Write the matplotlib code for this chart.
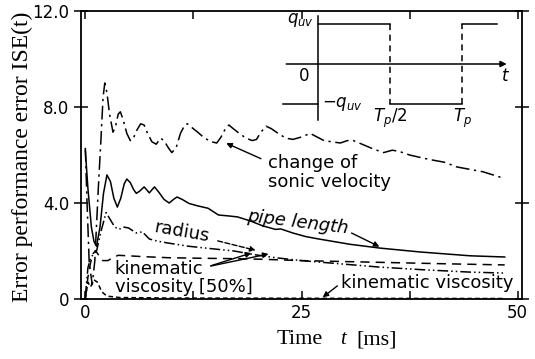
import matplotlib
matplotlib.use("Agg")
import matplotlib.pyplot as plt

W, H = 535, 359

# ---------------- data ----------------
sonic_t = [0, 0.2, 0.45, 0.8, 1.1, 1.5, 1.8, 2.05, 2.25, 2.5, 2.8, 3.2, 3.5, 3.8, 4.05, 4.35,
           4.8, 5.2, 5.5, 5.9, 6.4, 6.8, 7.2, 7.7, 8.2, 8.7, 9.1, 9.6, 10.0, 10.5, 11.0, 11.5,
           11.8, 12.3, 13.0, 13.8, 14.6, 15.2, 15.7, 16.2, 16.6, 17.1, 17.8, 18.6, 19.3, 19.8,
           20.3, 20.9, 21.5, 22.3, 23.2, 24.0, 25.0, 26.0, 26.8, 27.6, 28.5, 29.5, 30.3,
           31.0, 32.0, 33.3, 34.5, 35.5, 36.3, 37.5, 38.7, 40.0, 41.5, 43.0, 44.5, 46.0, 48.3]
sonic_v = [6.3, 4.0, 1.5, 0.6, 1.6, 4.6, 6.6, 8.4, 9.0, 8.6, 7.7, 6.95, 7.2, 7.7, 7.8, 7.5,
           6.9, 6.6, 6.65, 7.0, 7.3, 7.25, 6.9, 6.55, 6.45, 6.7, 6.6, 6.3, 6.1, 6.3, 6.9, 7.25,
           7.3, 7.15, 6.95, 6.7, 6.55, 6.5, 6.75, 7.1, 7.25, 7.1, 6.9, 6.7, 6.6, 6.65,
           6.95, 7.2, 7.1, 6.9, 6.7, 6.65, 6.75, 6.9, 6.75, 6.6, 6.55, 6.5, 6.6,
           6.6, 6.45, 6.25, 6.1, 6.2, 6.15, 6.0, 5.9, 5.8, 5.7, 5.5, 5.4, 5.3, 5.04]

pipe_t = [0, 0.3, 0.7, 1.0, 1.3, 1.7, 2.1, 2.5, 2.9, 3.3, 3.7, 4.1, 4.5, 4.8, 5.2, 5.6, 5.9,
          6.3, 6.8, 7.1, 7.4, 7.7, 8.0, 8.5, 9.1, 9.7, 10.2, 10.6, 11.2, 12.0, 13.0, 14.2,
          15.4, 16.6, 17.6, 19.1, 20.5, 22.0, 22.6, 24.0, 25.5, 27.0, 30.6, 34.1, 38.7,
          44.5, 48.5]
pipe_v = [6.2, 4.6, 3.0, 2.4, 2.2, 3.0, 4.4, 5.17, 4.9, 4.2, 3.83, 4.2, 4.8, 5.0, 4.85, 4.55,
          4.4, 4.5, 4.67, 4.55, 4.42, 4.55, 4.67, 4.45, 4.15, 4.0, 4.15, 4.25, 4.15, 3.98,
          3.88, 3.78, 3.5, 3.46, 3.42, 3.25, 3.05, 2.9, 2.92, 2.75, 2.6, 2.5, 2.28, 2.12, 1.96,
          1.8, 1.75]

radius_t = [0, 0.3, 0.6, 1.0, 1.3, 1.8, 2.4, 2.9, 3.4, 3.9, 4.4, 5.0, 5.9, 6.6, 7.4, 8.5, 9.6,
            11.9, 14.5, 17.2, 19.5, 22.0, 25.0, 30.0, 34.0, 39.0, 44.5, 48.5]
radius_v = [0.1, 1.3, 1.7, 1.9, 2.0, 2.8, 3.6, 3.3, 3.0, 2.9, 3.0, 2.96, 2.75, 2.8, 2.5, 2.4, 2.33,
            2.2, 2.1, 2.0, 1.85, 1.72, 1.6, 1.45, 1.33, 1.22, 1.12, 1.08]

kin50_t = [0, 0.3, 0.6, 0.9, 1.2, 1.6, 2.0, 2.6, 3.2, 3.8, 5.0, 6.4, 9.6, 13, 17.2, 20, 25, 30,
           35, 40, 44, 48.5]
kin50_v = [0.0, 0.9, 1.5, 1.9, 2.0, 1.8, 1.6, 1.6, 1.72, 1.82, 1.8, 1.77, 1.72, 1.7, 1.68, 1.66,
           1.6, 1.56, 1.52, 1.48, 1.45, 1.42]

kin_t = [0, 0.3, 0.6, 1.0, 1.4, 1.9, 2.5, 4, 10, 25, 48.5]
kin_v = [0, 0.7, 0.5, 0.8, 0.7, 0.3, 0.12, 0.06, 0.04, 0.03, 0.02]

x_ticks = [0, 25, 50]
x_minor = [12.5, 37.5]
y_ticks = [0, 4, 8, 12]
y_ticklabels = ["0", "4.0", "8.0", "12.0"]

# inset square wave (in units of T_p and q_uv)
sq_top_t = [0, 0.5]
sq_bot_t = [0.5, 1.0]
sq_top2_t = [1.0, 1.24]

# ---------------- figure ----------------
fig = plt.figure(figsize=(W / 100, H / 100), dpi=100)
L, R, T, B = 81, 522, 11, 299
ax = fig.add_axes([L / W, 1 - B / H, (R - L) / W, (B - T) / H])

lw = 1.1
ax.plot(sonic_t, sonic_v, color="black", lw=lw, linestyle=(0, (9, 3, 1.5, 3)))
ax.plot(pipe_t, pipe_v, color="black", lw=lw, linestyle="-")
ax.plot(radius_t, radius_v, color="black", lw=lw, linestyle=(0, (7, 2, 1, 2, 1, 2)))
ax.plot(kin50_t, kin50_v, color="black", lw=lw, linestyle=(0, (6, 4)))
ax.plot(kin_t, kin_v, color="black", lw=lw, linestyle=(0, (3, 2)))

ax.set_xlim(-0.5, 50.5)
ax.set_ylim(0, 12)
ax.set_xticks(x_ticks)
ax.set_xticks(x_minor, minor=True)
ax.set_yticks(y_ticks)
ax.set_yticklabels(y_ticklabels)
ax.tick_params(axis="both", which="major", labelsize=12, direction="in", length=6, width=1.1,
               top=True, right=True)
ax.tick_params(axis="both", which="minor", direction="in", length=6, width=1.1, top=True)
ax.tick_params(axis="y", which="major", direction="inout", length=10)
for s in ax.spines.values():
    s.set_linewidth(1.3)

serif = ["Liberation Serif", "DejaVu Serif"]
fig.text(22 / W, 1 - 157 / H, "Error performance error ISE(t)", rotation=90,
         ha="center", va="center", fontsize=17, family=serif)
fig.text(300 / W, 1 - 340 / H, "Time", ha="center", va="center", fontsize=16, family=serif)
fig.text(343 / W, 1 - 340 / H, "t", ha="center", va="center", fontsize=15, family=serif,
         style="italic")
fig.text(377 / W, 1 - 340 / H, "[ms]", ha="center", va="center", fontsize=16, family=serif)

fs = 13
ax.text(21.1, 5.67, "change of", fontsize=fs, va="center", ha="left")
ax.text(21.1, 4.88, "sonic velocity", fontsize=fs, va="center", ha="left")
ax.annotate("", xy=(16.0, 6.54), xytext=(20.6, 5.8),
            arrowprops=dict(arrowstyle="-|>", color="black", lw=1.0, mutation_scale=8))

ax.text(24.6, 3.2, "pipe length", fontsize=fs, va="center", ha="center", rotation=-7,
        style="italic")
ax.annotate("", xy=(34.3, 2.13), xytext=(30.5, 2.8),
            arrowprops=dict(arrowstyle="-|>", color="black", lw=1.0, mutation_scale=8))

ax.text(11.1, 2.8, "radius", fontsize=fs, va="center", ha="center", rotation=-10)
ax.annotate("", xy=(20.0, 2.0), xytext=(15.0, 2.45),
            arrowprops=dict(arrowstyle="-|>", color="black", lw=1.0, mutation_scale=8,
                            linestyle="--"))

ax.text(3.4, 1.25, "kinematic", fontsize=fs, va="center", ha="left")
ax.text(3.4, 0.52, "viscosity [50%]", fontsize=fs, va="center", ha="left")
ax.annotate("", xy=(19.5, 1.95), xytext=(14.2, 1.35),
            arrowprops=dict(arrowstyle="-|>", color="black", lw=1.0, mutation_scale=8))
ax.annotate("", xy=(21.5, 1.9), xytext=(14.2, 1.35),
            arrowprops=dict(arrowstyle="-|>", color="black", lw=1.0, mutation_scale=8))

ax.text(29.6, 0.67, "kinematic viscosity", fontsize=fs, va="center", ha="left")
ax.annotate("", xy=(27.2, 0.0), xytext=(29.4, 0.62),
            arrowprops=dict(arrowstyle="-|>", color="black", lw=1.0, mutation_scale=8))

# ---------------- inset ----------------
ix0, ix1, iy0, iy1 = 280, 515, 8, 125
iax = fig.add_axes([ix0 / W, 1 - iy1 / H, (ix1 - ix0) / W, (iy1 - iy0) / H])
iax.set_xlim((ix0 - 318) / 144, (ix1 - 318) / 144)
iax.set_ylim(-(iy1 - 64) / 40, (64 - iy0) / 40)
iax.axis("off")
iax.patch.set_alpha(0)
k = dict(color="black", lw=1.1)
iax.annotate("", xy=(1.33, 0), xytext=(-0.24, 0),
             arrowprops=dict(arrowstyle="-|>", color="black", lw=1.1, mutation_scale=9))
iax.plot([0, 0], [-1.4, 1.2], **k)
iax.plot(sq_top_t, [1, 1], **k)
iax.plot([0.5, 0.5], [1, -1], color="black", lw=1.1, linestyle=(0, (4, 3)))
iax.plot(sq_bot_t, [-1, -1], **k)
iax.plot([1.0, 1.0], [-1, 1], color="black", lw=1.1, linestyle=(0, (4, 3)))
iax.plot(sq_top2_t, [1, 1], **k)
iax.plot([-0.24, 0], [-1, -1], **k)
iax.text(-0.03, 1.1, "$q_{uv}$", ha="right", va="center", fontsize=12)
iax.text(-0.06, -0.3, "0", ha="right", va="center", fontsize=12)
iax.text(0.03, -1.0, "$-q_{uv}$", ha="left", va="center", fontsize=12)
iax.text(0.5, -1.35, "$T_p/2$", ha="center", va="center", fontsize=12)
iax.text(1.0, -1.35, "$T_p$", ha="center", va="center", fontsize=12)
iax.text(1.3, -0.3, "$t$", ha="center", va="center", fontsize=12)

fig.savefig("out.png", dpi=100)
